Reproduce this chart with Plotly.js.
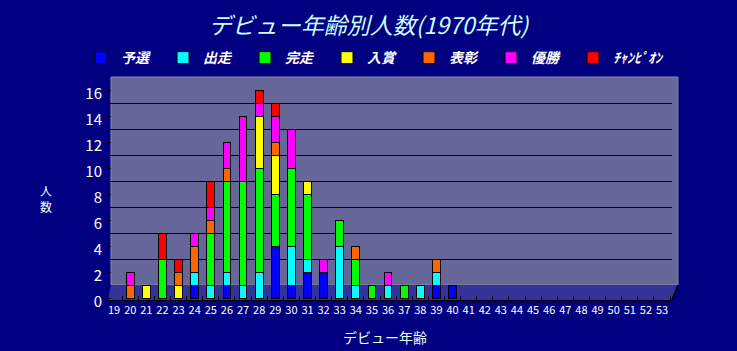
<!DOCTYPE html>
<html><head><meta charset="utf-8">
<script src="https://cdn.plot.ly/plotly-3.0.1.min.js"></script>
<style>html,body{margin:0;padding:0;background:#000080;}</style>
</head><body>
<div id="chart" style="width:737px;height:351px;"></div>
<script>
const ages = ["19","20","21","22","23","24","25","26","27","28","29","30","31","32","33","34","35","36","37","38","39","40","41","42","43","44","45","46","47","48","49","50","51","52","53"];
const seriesNames = ["予選","出走","完走","入賞","表彰","優勝","ﾁｬﾝﾋﾟｵﾝ"];
const yosen  = [0,0,0,0,0,1,0,1,0,0,4,1,2,2,0,0,0,0,0,0,1,1,0,0,0,0,0,0,0,0,0,0,0,0,0];
const shusso = [0,0,0,0,0,1,1,1,1,2,0,3,1,0,4,1,0,1,0,1,1,0,0,0,0,0,0,0,0,0,0,0,0,0,0];
const kanso  = [0,0,0,3,0,0,4,7,8,8,4,6,5,0,2,2,1,0,1,0,0,0,0,0,0,0,0,0,0,0,0,0,0,0,0];
const nyusho = [0,0,1,0,1,0,0,0,0,4,3,0,1,0,0,0,0,0,0,0,0,0,0,0,0,0,0,0,0,0,0,0,0,0,0];
const hyosho = [0,1,0,0,1,2,1,1,0,0,1,0,0,0,0,1,0,0,0,0,1,0,0,0,0,0,0,0,0,0,0,0,0,0,0];
const yusho  = [0,1,0,0,0,1,1,2,5,1,2,3,0,1,0,0,0,1,0,0,0,0,0,0,0,0,0,0,0,0,0,0,0,0,0];
const champ  = [0,0,0,2,1,0,2,0,0,1,1,0,0,0,0,0,0,0,0,0,0,0,0,0,0,0,0,0,0,0,0,0,0,0,0];
const seriesValues = [yosen, shusso, kanso, nyusho, hyosho, yusho, champ];
const colors = ["#0000ff","#00ffff","#00ff00","#ffff00","#ff6600","#ff00ff","#ff0000"];
const yTicks = [0,2,4,6,8,10,12,14,16];
const gridTicks = [4,6,8,10,12,14,16];

const FONT = '"Noto Sans CJK JP", "Noto Sans", sans-serif';

const traces = seriesValues.map((vals, i) => ({
  type: 'bar',
  name: seriesNames[i],
  x: ages,
  y: vals.map(v => v === 0 ? null : v),
  marker: {color: colors[i], line: {color: '#000000', width: 1}},
  width: 0.48,
  hoverinfo: 'x+y+name'
}));

// spacer legend entry so the last real entry is not clipped
traces.push({type: 'bar', name: ' ', x: [ages[0]], y: [null],
  marker: {color: 'rgba(0,0,0,0)', line: {width: 0}}, hoverinfo: 'skip'});

const layout = {
  width: 737, height: 351,
  paper_bgcolor: '#000080',
  plot_bgcolor: 'rgba(0,0,0,0)',
  margin: {l: 108, r: 65, t: 77, b: 51, pad: 0},
  barmode: 'stack',
  font: {family: FONT, color: '#ffffff'},
  title: {
    text: 'デビュー年齢別人数(1970年代)',
    font: {family: FONT, size: 23, color: '#ccffff', style: 'italic'},
    x: 0.5, xanchor: 'center', y: 0.926, yanchor: 'middle', yref: 'container'
  },
  showlegend: true,
  legend: {
    orientation: 'h', x: -0.01, xanchor: 'left', y: 1.085, yanchor: 'middle',
    entrywidth: 37, entrywidthmode: 'pixels',
    font: {family: FONT, size: 14, color: '#ffffff', style: 'italic', weight: 'bold'},
    bgcolor: 'rgba(0,0,0,0)', traceorder: 'normal'
  },
  xaxis: {
    type: 'category',
    range: [-0.38, 34.62],
    showgrid: false, zeroline: false,
    showline: true, linecolor: '#000000', linewidth: 1,
    ticks: 'inside', ticklen: 4, tickcolor: '#000000', tickson: 'boundaries',
    tickfont: {family: FONT, size: 11, color: '#ffffff'},
    tickangle: 0
  },
  yaxis: {
    range: [-0.154, 17.0],
    tickvals: yTicks,
    showgrid: false, zeroline: false,
    showline: true, linecolor: '#000000', linewidth: 1,
    ticks: 'inside', ticklen: 3, tickcolor: '#000000',
    tickfont: {family: FONT, size: 15, color: '#ffffff'},
    ticklabelstandoff: 2, ticklabelshift: 4
  },
  yaxis2: {
    overlaying: 'y',
    range: [0.846, 18.0],
    tickvals: gridTicks,
    showgrid: true, gridcolor: '#000000', gridwidth: 1,
    showticklabels: false, zeroline: false, showline: false, ticks: ''
  },
  shapes: [
    {type: 'rect', xref: 'paper', yref: 'paper', x0: 0.0053, x1: 1.0106, y0: 0.0673, y1: 1.0,
     fillcolor: '#666699', line: {color: '#8a8aa8', width: 1}, layer: 'below'},
    {type: 'path', xref: 'paper', yref: 'paper',
     path: 'M 0 0 L 1 0 L 1.0106 0.0673 L 0.0053 0.0673 Z',
     fillcolor: '#333399', line: {color: '#000000', width: 0}, layer: 'below'},
    {type: 'line', xref: 'paper', yref: 'paper', x0: 1, y0: 0, x1: 1.0106, y1: 0.0673,
     line: {color: '#000000', width: 1.5}, layer: 'below'}
  ],
  annotations: [
    {text: '人<br>数', xref: 'paper', yref: 'paper', x: -0.124, y: 0.457,
     showarrow: false, font: {family: FONT, size: 12, color: '#e8ffff'}, align: 'center'},
    {text: 'デビュー年齢', xref: 'paper', yref: 'paper', x: 0.491, y: -0.166,
     xanchor: 'center', yanchor: 'middle',
     showarrow: false, font: {family: FONT, size: 14, color: '#e8ffff'}}
  ]
};

// invisible trace binding yaxis2 so its gridlines render
traces.push({type: 'scatter', x: [ages[0]], y: [null], yaxis: 'y2', showlegend: false, hoverinfo: 'skip', mode: 'markers'});

Plotly.newPlot('chart', traces, layout, {displayModeBar: false, staticPlot: true});
</script>
</body></html>
